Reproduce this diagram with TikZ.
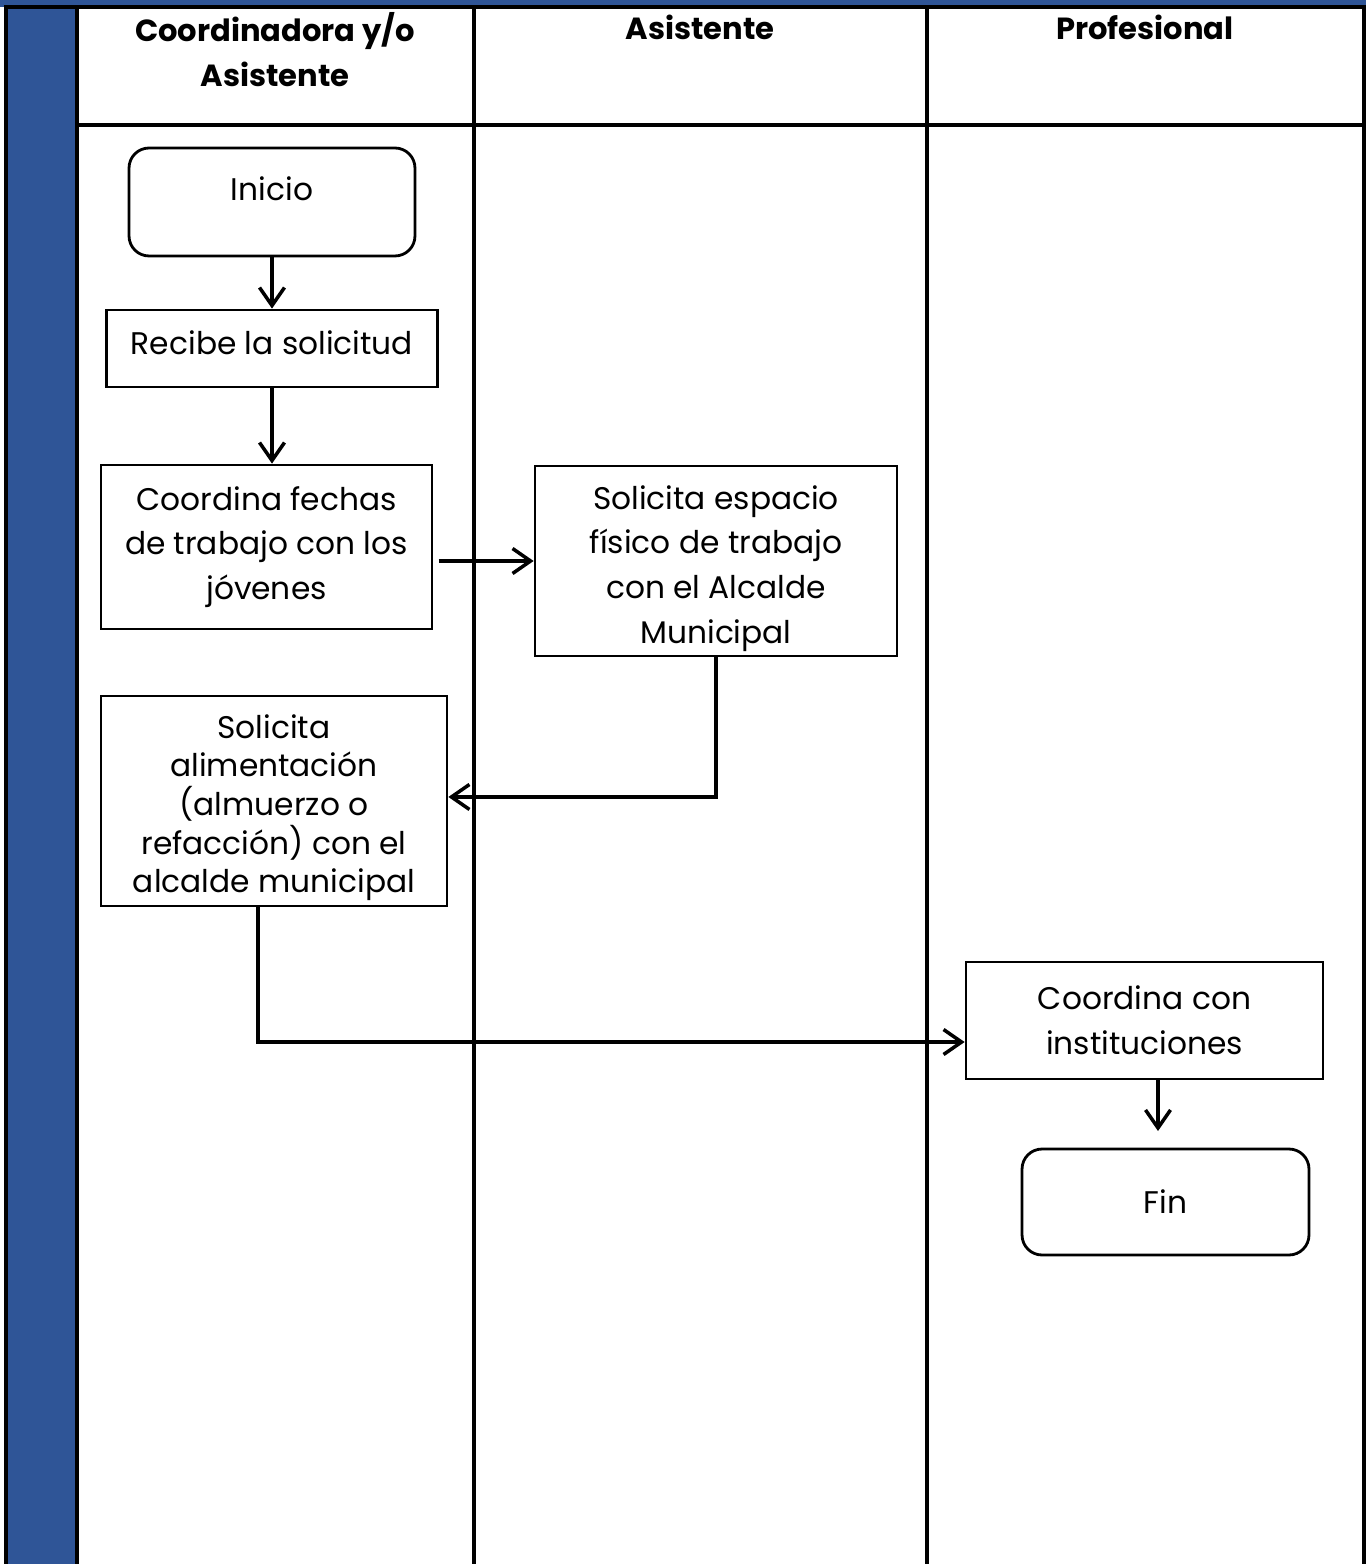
\documentclass[tikz,border=0pt]{standalone}
\usepackage{fontspec}
\setmainfont{Poppins}
\usetikzlibrary{arrows.meta}
\definecolor{lanblue}{HTML}{2F5597}
\newcommand{\padtop}[1]{\rule{0pt}{#1}}
\tikzset{
  box/.style={draw=black, line width=1.6pt, fill=white, align=center, inner sep=2pt, font=\fontsize{17.8}{25.5}\selectfont},
  proc/.style={box},
  term/.style={box, rounded corners=0.4cm},
  lane/.style={line width=2pt},
  head/.style={font=\fontsize{17.4}{25.5}\selectfont\bfseries, align=center},
  arr/.style={-{Straight Barb[length=3.6mm, width=5mm]}, line width=2pt},
}
\begin{document}
\begin{tikzpicture}[x=0.02cm, y=-0.02cm]
    \useasboundingbox (0,0) rectangle (1366,1564);
    % lanes
    \fill[lanblue] (0,0) rectangle (1366,7);
    \fill[lanblue] (6,7) rectangle (77,1564);
    \draw[lane] (6,1564) -- (6,7) -- (1364,7) -- (1364,1564);
    \draw[lane] (77,7) -- (77,1564);
    \draw[lane] (474,7) -- (474,1564);
    \draw[lane] (927,7) -- (927,1564);
    \draw[lane] (77,125) -- (1364,125);
    \node[head] (h1) at (275,50) {Coordinadora y/o\\Asistente};
    \node[head] (h2) at (700,27) {Asistente};
    \node[head] (h3) at (1145,27) {Profesional};
    % steps
    \node[term, minimum width=5.72cm, minimum height=2.16cm, text depth=0.55cm] (inicio) at (272,202) {Inicio};
    \node[proc, minimum width=6.62cm, minimum height=1.54cm, text depth=0.24cm] (recibe) at (272,348.5) {Recibe la solicitud};
    \node[proc, minimum width=6.62cm, minimum height=3.28cm] (fechas) at (266.5,547) {Coordina fechas\\de trabajo con los\\jóvenes};
    \node[proc, minimum width=7.24cm, minimum height=3.8cm] (espacio) at (716,561) {\padtop{22pt}Solicita espacio\\físico de trabajo\\con el Alcalde\\Municipal};
    \node[proc, minimum width=6.92cm, minimum height=4.2cm, font=\fontsize{17.8}{22}\selectfont] (alim) at (274,801) {\padtop{21pt}Solicita\\alimentación\\(almuerzo o\\refacción) con el\\alcalde municipal};
    \node[proc, minimum width=7.14cm, minimum height=2.34cm] (inst) at (1144.5,1020.5) {Coordina con\\instituciones};
    \node[term, minimum width=5.74cm, minimum height=2.12cm] (fin) at (1165.5,1202) {Fin};
    \coordinate (turn) at (258,1042);
    \coordinate (finin) at (1158,1131);
    % flow
    \draw[arr] (inicio) -- (recibe);
    \draw[arr] (recibe.south) -- (recibe.south |- fechas.north);
    \draw[arr] ([xshift=3pt]fechas.east |- espacio.west) -- (espacio.west);
    \draw[arr] (espacio.south) |- ([yshift=2.3pt]alim.east);
    \draw[arr] (alim.south -| turn) |- (inst.west |- turn);
    \draw[arr] (inst.south -| finin) -- (finin);
  \end{tikzpicture}
\end{document}
